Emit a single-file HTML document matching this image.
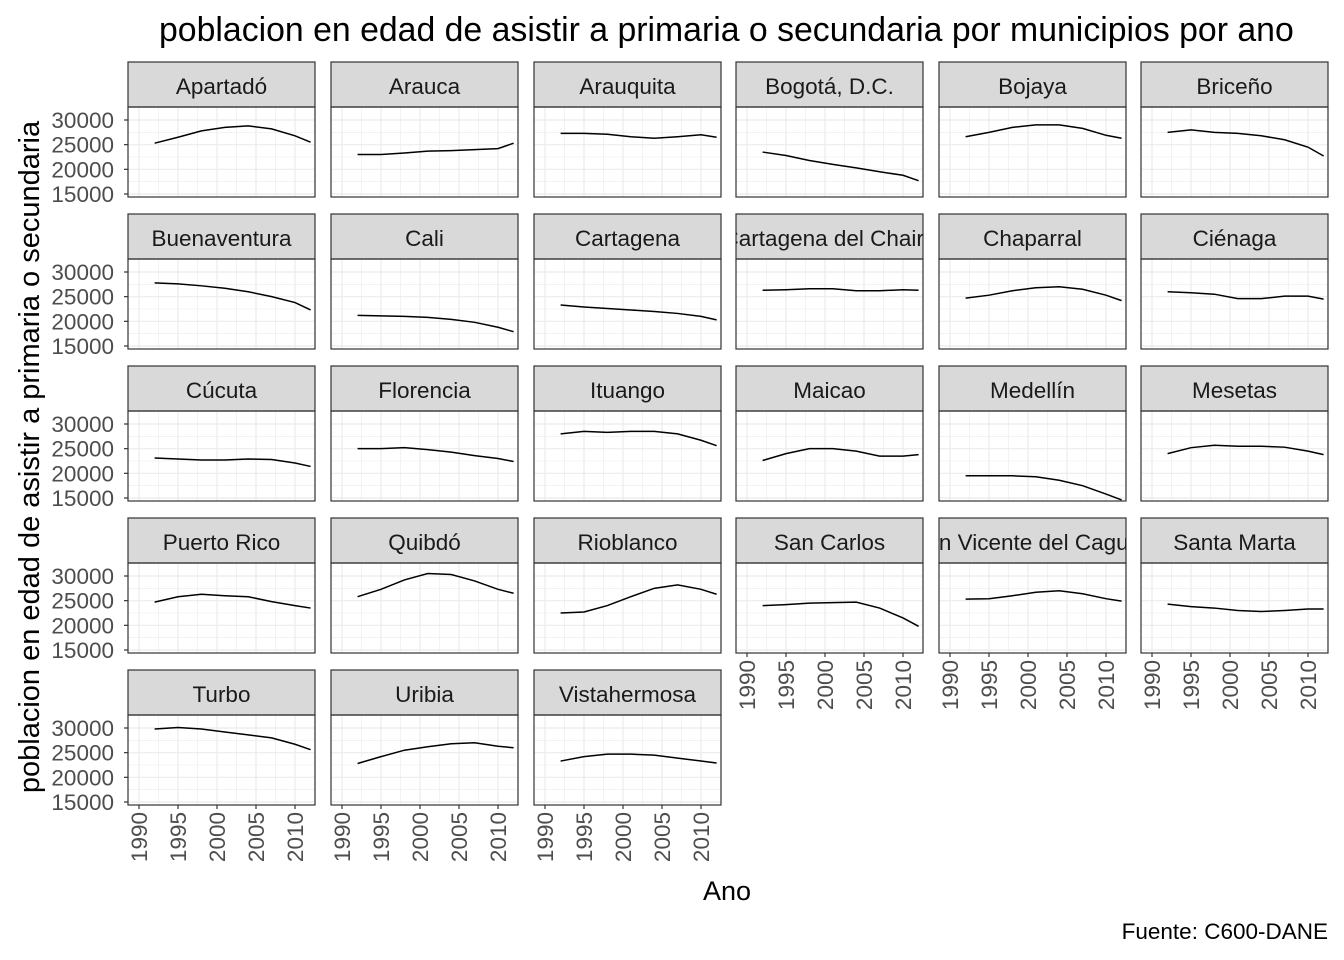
<!DOCTYPE html>
<html><head><meta charset="utf-8"><style>
body{margin:0;background:#fff}
svg{display:block;font-family:"Liberation Sans",Arial,sans-serif}
</style></head><body>
<svg id="c" width="1344" height="960" viewBox="0 0 1344 960">
<text x="159" y="41" font-size="33.8" fill="#000">poblacion en edad de asistir a primaria o secundaria por municipios por ano</text>
<text transform="translate(39,457) rotate(-90)" text-anchor="middle" font-size="29" fill="#000">poblacion en edad de asistir a primaria o secundaria</text>
<text x="727" y="900" text-anchor="middle" font-size="27" fill="#000">Ano</text>
<text x="1328" y="939" text-anchor="end" font-size="22.5" fill="#000">Fuente: C600-DANE</text>
</svg>
<script>
const years=[1992,1995,1998,2001,2004,2007,2010,2012];
const names=["Apartadó","Arauca","Arauquita","Bogotá, D.C.","Bojaya","Briceño","Buenaventura","Cali","Cartagena","Cartagena del Chairá","Chaparral","Ciénaga","Cúcuta","Florencia","Ituango","Maicao","Medellín","Mesetas","Puerto Rico","Quibdó","Rioblanco","San Carlos","San Vicente del Caguán","Santa Marta","Turbo","Uribia","Vistahermosa"];
const s0=[25300,26500,27800,28500,28800,28200,26800,25500];
const s1=[23000,23000,23300,23700,23800,24000,24200,25300];
const s2=[27300,27300,27100,26600,26300,26600,27000,26500];
const s3=[23500,22800,21800,21000,20300,19500,18800,17700];
const s4=[26600,27500,28500,29000,29000,28300,26900,26300];
const s5=[27500,28000,27500,27300,26800,26000,24500,22700];
const s6=[27800,27600,27200,26700,26000,25000,23800,22300];
const s7=[21200,21100,21000,20800,20400,19800,18800,17900];
const s8=[23300,22900,22600,22300,22000,21600,21000,20300];
const s9=[26300,26400,26600,26600,26200,26200,26400,26300];
const s10=[24700,25300,26200,26800,27000,26500,25300,24200];
const s11=[26000,25800,25500,24600,24600,25100,25100,24500];
const s12=[23100,22900,22700,22700,22900,22800,22100,21400];
const s13=[25000,25000,25200,24800,24300,23600,23000,22400];
const s14=[28000,28500,28300,28500,28500,28000,26700,25600];
const s15=[22600,24000,25000,25000,24500,23500,23500,23800];
const s16=[19500,19500,19500,19300,18600,17500,15800,14600];
const s17=[24000,25200,25700,25500,25500,25300,24500,23800];
const s18=[24700,25800,26300,26000,25800,24800,24000,23500];
const s19=[25800,27300,29200,30500,30300,29000,27300,26500];
const s20=[22500,22700,24000,25800,27500,28200,27300,26300];
const s21=[24000,24200,24500,24600,24700,23500,21500,19800];
const s22=[25300,25400,26000,26700,27000,26400,25400,24900];
const s23=[24300,23800,23500,23000,22800,23000,23300,23300];
const s24=[29800,30100,29800,29200,28600,28000,26700,25600];
const s25=[22800,24200,25500,26200,26800,27000,26300,26000];
const s26=[23300,24200,24700,24700,24500,23900,23300,22900];
const series=[s0,s1,s2,s3,s4,s5,s6,s7,s8,s9,s10,s11,s12,s13,s14,s15,s16,s17,s18,s19,s20,s21,s22,s23,s24,s25,s26];
const yTicks=[15000,20000,25000,30000];
const xTicks=[1990,1995,2000,2005,2010];
const NS="http://www.w3.org/2000/svg",svg=document.getElementById('c');
const colL=[128,331,534,736,939,1141],PW=187,rowT=[62,214,366,518,670],SH=45,PH=90;
function mk(t,a,p){const e=document.createElementNS(NS,t);for(const k in a)e.setAttribute(k,a[k]);(p||svg).appendChild(e);return e;}
const xs=(L,v)=>L+11+(v-1990)*7.8;
const ys=(T,v)=>T+13+(30000-v)*0.004933;
const n=Math.min(names.length,series.length);
for(let i=0;i<n;i++){
 const c=i%6,r=Math.floor(i/6),L=colL[c],T=rowT[r]+SH;
 const g=mk('g',{});
 
 
 mk('rect',{x:L,y:T,width:PW,height:PH,fill:'#fff'},g);
 for(let v=12500;v<=32500;v+=2500){const y=ys(T,v);if(y<T||y>T+PH)continue;
  mk('line',{x1:L,x2:L+PW,y1:y,y2:y,stroke:'#ebebeb','stroke-width':v%5000?0.6:1.2},g);}
 for(let v=1987.5;v<=2015;v+=2.5){const x=xs(L,v);if(x<L||x>L+PW)continue;
  mk('line',{x1:x,x2:x,y1:T,y2:T+PH,stroke:'#ebebeb','stroke-width':v%5?0.6:1.2},g);}
 const sr=mk('rect',{x:L,y:rowT[r],width:PW,height:SH,fill:'#d9d9d9',stroke:'#333','stroke-width':1.2},g);
 
 
 const cp=mk('clipPath',{id:'cp'+i},g);mk('rect',{x:L,y:rowT[r],width:PW,height:SH},cp);
 const t=mk('text',{x:L+PW/2,y:rowT[r]+32,'text-anchor':'middle','font-size':22.5,fill:'#1a1a1a','clip-path':'url(#cp'+i+')'},g);
 t.textContent=names[i];
 
 
 const pl=mk('polyline',{points:years.map((y,k)=>xs(L,y)+','+ys(T,series[i][k])).join(' '),fill:'none',stroke:'#000','stroke-width':1.5},g);
 
 
 mk('rect',{x:L,y:T,width:PW,height:PH,fill:'none',stroke:'#333','stroke-width':1.2},g);
 if(c===0){yTicks.forEach(v=>{const y=ys(T,v);
  mk('line',{x1:L-4,x2:L,y1:y,y2:y,stroke:'#333','stroke-width':1.2},g);
  const tt=mk('text',{x:L-14,y:y+8,'text-anchor':'end','font-size':22.5,fill:'#4d4d4d'},g);tt.textContent=v;
  
  });}
 if(i+6>=n){xTicks.forEach(v=>{const x=xs(L,v),y0=T+PH;
  mk('line',{x1:x,x2:x,y1:y0,y2:y0+4,stroke:'#333','stroke-width':1.2},g);
  const tt=mk('text',{transform:`translate(${x+8},${y0+7}) rotate(-90)`,'text-anchor':'end','font-size':22.5,fill:'#4d4d4d'},g);tt.textContent=v;
  
  });}
}
</script>
</body></html>
